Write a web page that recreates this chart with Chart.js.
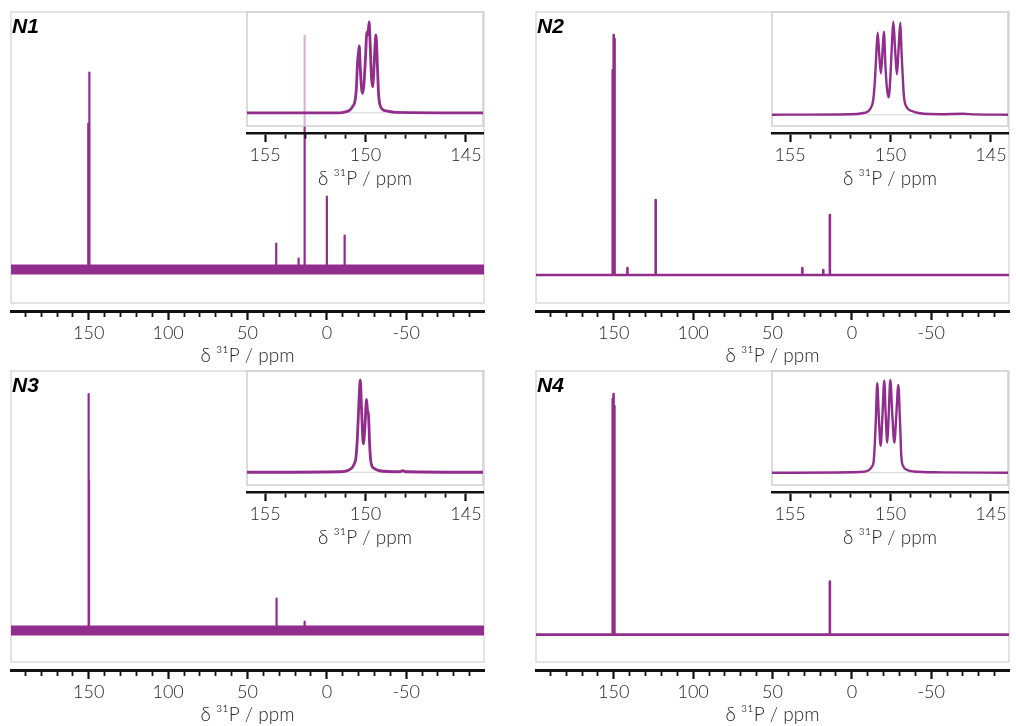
<!DOCTYPE html>
<html>
<head>
<meta charset="utf-8">
<script src="https://cdn.jsdelivr.net/npm/chart.js@4.4.1/dist/chart.umd.min.js"></script>
<style>
html, body { margin: 0; padding: 0; background: #fff; }
body { width: 1016px; height: 726px; position: relative; overflow: hidden; }
.holder { position: absolute; }
.holder canvas { display: block; }
.plabel { position: absolute; font: italic bold 21px "Liberation Sans", Arial, sans-serif; line-height: 21px; color: #000; }
</style>
</head>
<body>
<script>
// ---------------- data ----------------
const panelLabels = ['N1', 'N2', 'N3', 'N4'];
const axisTitle = 'δ ³¹P / ppm';
const mainTickLabels = [150, 100, 50, 0, -50];
const insetTickLabels = [155, 150, 145];
const mainRange = [199, -99];      // ppm, left -> right
const insetRange = [155.9, 144.15]; // ppm, left -> right

// full spectra: peak positions (ppm) and heights (a.u.)
const n1PeakPpm    = [150.31, 149.82, 149.48, 31.9, 17.8, 14.0, 0.0, -11.2];
const n1PeakHeight = [146, 197, 169, 26, 11, 234, 73, 34];
const n2PeakPpm    = [150.64, 150.33, 149.86, 149.51, 141.4, 123.6, 31.2, 18.0, 13.85];
const n2PeakHeight = [205, 215, 240, 236, 7, 75, 7, 5, 60];
const n3PeakPpm    = [150.26, 149.95, 149.85, 31.7, 14.0];
const n3PeakHeight = [236, 185, 150, 32, 9];
const n4PeakPpm    = [150.66, 150.31, 150.01, 149.61, 13.85];
const n4PeakHeight = [235, 240, 232, 228, 53];

// expanded region 156 - 144 ppm (insets)
const n1InsetPpm = [155.9, 151.3, 151.0, 150.8, 150.65, 150.51, 150.45, 150.4, 150.35, 150.31, 150.26, 150.2, 150.15, 150.08, 150.0, 149.93, 149.88, 149.82, 149.77, 149.71, 149.65, 149.59, 149.53, 149.48, 149.4, 149.35, 149.28, 149.15, 148.9, 148.5, 144.15];
const n1InsetInt = [0, 0, 1, 2.5, 6, 13, 26, 49, 60, 67, 45, 25, 19.5, 28, 55, 81, 78, 91, 70, 38, 26, 40, 65, 78, 43, 19, 8, 3.4, 1.7, 0.5, 0];
const n2InsetPpm = [155.9, 152.0, 151.4, 151.15, 150.99, 150.86, 150.78, 150.72, 150.64, 150.56, 150.48, 150.40, 150.33, 150.25, 150.17, 150.09, 150.0, 149.93, 149.86, 149.77, 149.68, 149.6, 149.51, 149.45, 149.39, 149.33, 149.19, 148.94, 148.53, 147.5, 146.4, 145.8, 144.15];
const n2InsetInt = [0, 0.5, 1.5, 3, 6.4, 14.7, 33, 55, 82, 60, 41.4, 62, 83, 48, 25, 17.4, 40, 70, 93, 65, 40.4, 65, 92, 62, 38, 18, 7.4, 3.7, 1.4, 0.5, 0.9, 0.3, 0];
const n3InsetPpm = [155.9, 151.2, 150.85, 150.65, 150.55, 150.48, 150.4, 150.33, 150.26, 150.19, 150.11, 150.03, 149.95, 149.9, 149.85, 149.79, 149.72, 149.57, 149.3, 148.3, 148.15, 148.0, 144.15];
const n3InsetInt = [0, 0.5, 2, 5, 9, 14, 36, 69, 92.5, 60, 28.5, 45, 73, 62, 57.5, 26, 9, 4, 1.5, 0.5, 1.5, 0.5, 0];
const n4InsetPpm = [155.9, 151.53, 151.11, 150.94, 150.83, 150.73, 150.66, 150.58, 150.49, 150.40, 150.31, 150.24, 150.16, 150.09, 150.01, 149.91, 149.81, 149.71, 149.61, 149.53, 149.46, 149.36, 149.19, 148.86, 147.5, 144.15];
const n4InsetInt = [0, 0.7, 2.3, 5.7, 13, 53, 89.7, 55, 27, 58, 92.3, 58, 30.3, 58, 93, 58, 30.3, 58, 88, 53, 16.3, 6.3, 3, 1.3, 0.4, 0];

// ---------------- styling / layout ----------------
const purple = 'rgb(145,45,140)';
const textFont = 'Lato';
const textWeight = '300';
const textColor = '#1e1e1e';

const panels = [
  { label: panelLabels[0], ppm: n1PeakPpm, h: n1PeakHeight, ip: n1InsetPpm, ii: n1InsetInt,
    main: { left: 0, top: 0, w: 508, h: 367, pl: 11, pr: 24, yMin: -41.5, yMax: 257.5, band: 10 },
    inset: { left: 230, top: 0, w: 270, h: 192, pl: 17, pr: 17, yMin: -20.2, yMax: 100.8, lw: 2.8 } },
  { label: panelLabels[1], ppm: n2PeakPpm, h: n2PeakHeight, ip: n2InsetPpm, ii: n2InsetInt,
    main: { left: 520, top: 0, w: 496, h: 367, pl: 16, pr: 7, yMin: -36, yMax: 263, band: 0 },
    inset: { left: 760, top: 0, w: 256, h: 192, pl: 12, pr: 8, yMin: -18.3, yMax: 102.7, lw: 2.4 } },
  { label: panelLabels[2], ppm: n3PeakPpm, h: n3PeakHeight, ip: n3InsetPpm, ii: n3InsetInt,
    main: { left: 0, top: 359, w: 508, h: 367, pl: 11, pr: 24, yMin: -39.3, yMax: 259, band: 10 },
    inset: { left: 230, top: 359, w: 270, h: 192, pl: 17, pr: 17, yMin: -19.8, yMax: 101.5, lw: 2.8 } },
  { label: panelLabels[3], ppm: n4PeakPpm, h: n4PeakHeight, ip: n4InsetPpm, ii: n4InsetInt,
    main: { left: 520, top: 359, w: 496, h: 367, pl: 16, pr: 7, yMin: -35.3, yMax: 263, band: 0 },
    inset: { left: 760, top: 359, w: 256, h: 192, pl: 12, pr: 8, yMin: -19.3, yMax: 102, lw: 2.4 } }
];

function sticks(ppm, heights, hi, lo) {
  const pts = [{ x: hi, y: 0 }];
  ppm.forEach((p, i) => pts.push({ x: p, y: 0 }, { x: p, y: heights[i] }, { x: p, y: 0 }));
  pts.push({ x: lo, y: 0 });
  return pts;
}
function curve(ppm, vals) { return ppm.map((p, i) => ({ x: p, y: vals[i] })); }
const isMult = (v, m) => Math.abs(v / m - Math.round(v / m)) < 1e-6;

const framePlugin = {
  id: 'frame',
  beforeDraw(chart, args, o) {
    const a = chart.chartArea, ctx = chart.ctx;
    const b = a.bottom - o.gap;
    ctx.save();
    if (o.fill) { ctx.fillStyle = o.fill; ctx.fillRect(a.left, a.top, a.right - a.left, b - a.top); }
    if (o.zero) {
      const y = chart.scales.y.getPixelForValue(0);
      ctx.strokeStyle = o.zero; ctx.lineWidth = 1;
      ctx.beginPath(); ctx.moveTo(a.left, y); ctx.lineTo(a.right, y); ctx.stroke();
    }
    ctx.strokeStyle = o.color; ctx.lineWidth = o.width;
    ctx.strokeRect(a.left, a.top, a.right - a.left, b - a.top);
    ctx.restore();
  }
};

function xAxis(range, step, majorStep, labels, height, tickLen, borderW, tickPad, titlePad) {
  return {
    type: 'linear', reverse: true, min: range[1], max: range[0],
    afterFit: s => { s.height = height; },
    border: { display: true, color: '#111', width: borderW },
    grid: {
      display: true, drawOnChartArea: false, drawTicks: true, tickLength: tickLen,
      tickColor: '#111',
      tickWidth: c => (c.tick && isMult(c.tick.value, majorStep)) ? 2.2 : 1.8,
      tickBorderDash: c => (c.tick && isMult(c.tick.value, majorStep)) ? [] : [4, 40]
    },
    ticks: {
      stepSize: step, includeBounds: false, autoSkip: false, maxRotation: 0, minRotation: 0,
      padding: tickPad, color: textColor, font: { family: textFont, size: 18, weight: textWeight },
      callback: v => labels.some(l => Math.abs(l - v) < 1e-6) ? String(Math.round(v)) : ''
    },
    title: { display: true, text: axisTitle, color: textColor, font: { family: textFont, size: 19, weight: textWeight }, padding: { top: 0, bottom: titlePad } }
  };
}

function makeCanvas(g) {
  const d = document.createElement('div');
  d.className = 'holder';
  d.style.left = g.left + 'px'; d.style.top = g.top + 'px';
  d.style.width = g.w + 'px'; d.style.height = g.h + 'px';
  const c = document.createElement('canvas');
  c.width = g.w; c.height = g.h;
  c.style.width = g.w + 'px'; c.style.height = g.h + 'px';
  d.appendChild(c);
  document.body.appendChild(d);
  return c;
}

const baseOpts = { responsive: false, maintainAspectRatio: false, animation: false, events: [] };

// main spectra
panels.forEach(p => {
  const g = p.main;
  const datasets = [];
  if (g.band) {
    datasets.push({ data: [{ x: mainRange[0], y: 0 }, { x: mainRange[1], y: 0 }], borderColor: purple,
      borderWidth: g.band, pointRadius: 0, tension: 0, borderCapStyle: 'butt' });
  }
  datasets.push({ data: sticks(p.ppm, p.h, mainRange[0], mainRange[1]), borderColor: purple,
    borderWidth: g.band ? 2.2 : 2.6, pointRadius: 0, tension: 0, borderJoinStyle: 'round', borderCapStyle: 'butt' });
  new Chart(makeCanvas(g), {
    type: 'line',
    data: { datasets },
    plugins: [framePlugin],
    options: Object.assign({}, baseOpts, {
      layout: { padding: { left: g.pl, right: g.pr, top: 12, bottom: 0 } },
      scales: {
        x: xAxis(mainRange, 10, 50, mainTickLabels, 56, 9, 3, 2.5, 0),
        y: { display: false, min: g.yMin, max: g.yMax }
      },
      plugins: { legend: { display: false }, tooltip: { enabled: false },
        frame: { gap: 8, color: '#dadada', width: 1.5 } }
    })
  });
});

// insets
panels.forEach(p => {
  const g = p.inset;
  new Chart(makeCanvas(g), {
    type: 'line',
    data: { datasets: [{ data: curve(p.ip, p.ii), borderColor: purple, borderWidth: g.lw, pointRadius: 0,
      cubicInterpolationMode: 'monotone', borderJoinStyle: 'round' }] },
    plugins: [framePlugin],
    options: Object.assign({}, baseOpts, {
      layout: { padding: { left: g.pl, right: g.pr, top: 12, bottom: 0 } },
      scales: {
        x: xAxis(insetRange, 1, 5, insetTickLabels, 59, 9, 2.6, 2.2, 1.5),
        y: { display: false, min: g.yMin, max: g.yMax }
      },
      plugins: { legend: { display: false }, tooltip: { enabled: false },
        frame: { gap: 7, color: '#cfcfcf', width: 1.5, fill: 'rgba(255,255,255,0.65)', zero: '#d4d4d4' } }
    })
  });
});

// panel labels
panels.forEach(p => {
  const d = document.createElement('div');
  d.className = 'plabel';
  d.textContent = p.label;
  d.style.left = (p.main.left + p.main.pl + 1) + 'px';
  d.style.top = (p.main.top + 15) + 'px';
  document.body.appendChild(d);
});
</script>
</body>
</html>
